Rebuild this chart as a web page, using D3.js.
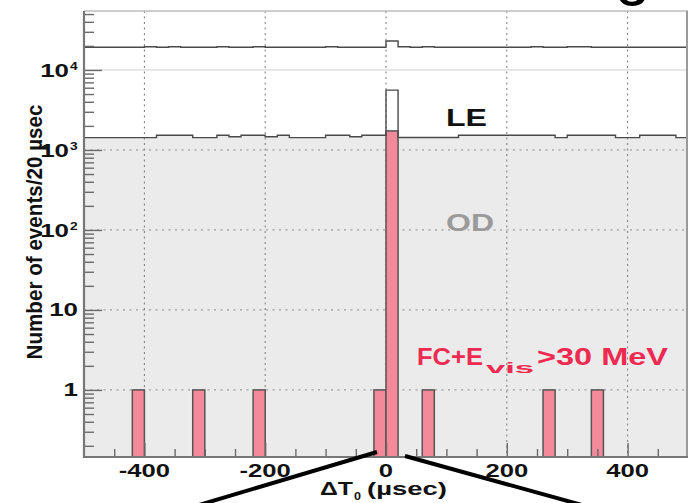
<!DOCTYPE html>
<html>
<head>
<meta charset="utf-8">
<script src="https://cdn.jsdelivr.net/npm/d3@7"></script>
<style>
  body { margin: 0; background: #fff; }
  svg { display: block; }
  text { font-family: "Liberation Sans", Arial, Helvetica, sans-serif; font-weight: bold; }
</style>
</head>
<body>
<svg id="chart" width="698" height="503"></svg>
<script>
// Histogram binning: 20 µs bins spanning -500 .. +500 µs
const binStart = -500;
const binWidth = 20;

// Top trace (all triggers), events per bin
const allTrigCounts = [
  19200, 19200, 19200, 19200, 19200, 19500, 19200, 19500, 19200, 19200,
  19200, 19500, 19200, 19200, 19500, 19200, 19200, 19200, 19200, 19200,
  19500, 19200, 19200, 19200, 19200, 23000, 19500, 19200, 19500, 19200,
  19200, 19200, 19200, 19200, 19200, 19200, 19200, 19500, 19200, 19200,
  19500, 19500, 19200, 19200, 19200, 19200, 19200, 19200, 19200, 19200
];

// LE trigger, events per bin
const leCounts = [
  1425, 1425, 1425, 1425, 1425, 1425, 1530, 1530, 1530, 1425,
  1425, 1530, 1460, 1530, 1530, 1460, 1530, 1425, 1425, 1425,
  1530, 1530, 1460, 1530, 1530, 5600, 1430, 1430, 1430, 1430,
  1430, 1530, 1530, 1530, 1530, 1530, 1530, 1530, 1530, 1425,
  1530, 1530, 1530, 1530, 1425, 1425, 1530, 1530, 1530, 1425
];

// OD trigger, events per bin (filled)
const odCounts = [
  1425, 1425, 1425, 1425, 1425, 1425, 1530, 1530, 1530, 1425,
  1425, 1530, 1460, 1530, 1530, 1460, 1530, 1425, 1425, 1425,
  1530, 1530, 1460, 1530, 1530, 1470, 1430, 1430, 1430, 1430,
  1430, 1530, 1530, 1530, 1530, 1530, 1530, 1530, 1530, 1425,
  1530, 1530, 1530, 1530, 1425, 1425, 1530, 1530, 1530, 1425
];

// FC events with Evis > 30 MeV, events per bin
const fcCounts = [
  0, 0, 0, 0, 1, 0, 0, 0, 0, 1,
  0, 0, 0, 0, 1, 0, 0, 0, 0, 0,
  0, 0, 0, 0, 1, 1730, 0, 0, 1, 0,
  0, 0, 0, 0, 0, 0, 0, 0, 1, 0,
  0, 0, 1, 0, 0, 0, 0, 0, 0, 0
];

const xTickValues = [-400, -200, 0, 200, 400];
const xTickLabels = ["-400", "-200", "0", "200", "400"];
const xMinorStep = 50;
const yTickValues = [1, 10, 100, 1000, 10000];
const yTickBases = ["1", "10", "10", "10", "10"];
const yTickExponents = ["", "", "2", "3", "4"];

const svg = d3.select("#chart");
const W = 698, H = 503;
const plot = { left: 84, right: 688, top: 11, bottom: 457 };

const x = d3.scaleLinear().domain([-500, 500]).range([plot.left, plot.right]);
const y = d3.scaleLog().domain([0.145, 54600]).range([plot.bottom, plot.top]);

const edges = d3.range(leCounts.length + 1).map(i => binStart + i * binWidth);
const stepPoints = arr => edges.map((e, i) => ({ e, v: arr[Math.min(i, arr.length - 1)] }));

const stepLine = d3.line().curve(d3.curveStepAfter).x(d => x(d.e)).y(d => y(d.v));
const stepArea = d3.area().curve(d3.curveStepAfter)
  .x(d => x(d.e)).y0(plot.bottom).y1(d => y(d.v));

svg.append("rect").attr("width", W).attr("height", H).attr("fill", "#fff");

// OD fill
svg.append("path").datum(stepPoints(odCounts))
  .attr("d", stepArea).attr("fill", "#ebebeb");

// grid
const grid = svg.append("g");
grid.selectAll("line.v").data(xTickValues).join("line")
  .attr("x1", d => x(d)).attr("x2", d => x(d))
  .attr("y1", plot.top).attr("y2", plot.bottom)
  .attr("stroke", "#7a7a7a").attr("stroke-width", 1).attr("stroke-dasharray", "2,3.5");
grid.selectAll("line.h").data(yTickValues).join("line")
  .attr("x1", plot.left).attr("x2", plot.right)
  .attr("y1", d => y(d)).attr("y2", d => y(d))
  .attr("stroke", d => d === 10000 ? "#cfcfcf" : "#8a8a8a")
  .attr("stroke-width", 1)
  .attr("stroke-dasharray", d => d === 10000 ? null : "2,4.5");

// FC bars
svg.append("g").selectAll("rect")
  .data(fcCounts.map((v, i) => ({ lo: binStart + i * binWidth, v })).filter(d => d.v > 0))
  .join("rect")
  .attr("x", d => x(d.lo))
  .attr("width", d => x(d.lo + binWidth) - x(d.lo))
  .attr("y", d => y(d.v))
  .attr("height", d => plot.bottom - y(d.v))
  .attr("fill", "#f4899a")
  .attr("stroke", "#555").attr("stroke-width", 1.5);

// LE and top traces
svg.append("path").datum(stepPoints(leCounts))
  .attr("d", stepLine).attr("fill", "none")
  .attr("stroke", "#4a4a4a").attr("stroke-width", 1.4);
svg.append("path").datum(stepPoints(allTrigCounts))
  .attr("d", stepLine).attr("fill", "none")
  .attr("stroke", "#4a4a4a").attr("stroke-width", 1.4);

// axes
const yMinor = [];
for (let p = -1; p <= 4; p++) for (let m = 2; m <= 9; m++) {
  const v = m * Math.pow(10, p);
  if (v >= y.domain()[0] && v <= y.domain()[1]) yMinor.push(v);
}
const xMinor = d3.range(-500, 501, xMinorStep).filter(v => !xTickValues.includes(v) && v > -500 && v < 500);

const axCol = "#6a6a6a";
function styleAxis(g) {
  g.selectAll("line").attr("stroke", axCol).attr("stroke-width", 1.4);
  g.select(".domain").remove();
}
svg.append("g").attr("transform", `translate(${plot.left},0)`)
  .call(d3.axisRight(y).tickValues(yTickValues).tickSize(18).tickFormat("")).call(styleAxis);
svg.append("g").attr("transform", `translate(${plot.left},0)`)
  .call(d3.axisRight(y).tickValues(yMinor).tickSize(10).tickFormat("")).call(styleAxis);
svg.append("g").attr("transform", `translate(0,${plot.bottom})`)
  .call(d3.axisTop(x).tickValues(xTickValues).tickSize(14).tickFormat("")).call(styleAxis);
svg.append("g").attr("transform", `translate(0,${plot.bottom})`)
  .call(d3.axisTop(x).tickValues(xMinor).tickSize(8).tickFormat("")).call(styleAxis);

// frame
svg.append("line").attr("x1", plot.left).attr("x2", plot.right).attr("y1", plot.top).attr("y2", plot.top)
  .attr("stroke", "#bdbdbd").attr("stroke-width", 1.5);
svg.append("line").attr("x1", plot.right - 1).attr("x2", plot.right - 1).attr("y1", plot.top).attr("y2", plot.bottom)
  .attr("stroke", "#9a9a9a").attr("stroke-width", 2);
svg.append("line").attr("x1", plot.left).attr("x2", plot.left).attr("y1", plot.top).attr("y2", plot.bottom + 1)
  .attr("stroke", "#777").attr("stroke-width", 2.2);
svg.append("line").attr("x1", plot.left).attr("x2", plot.right).attr("y1", plot.bottom).attr("y2", plot.bottom)
  .attr("stroke", "#777").attr("stroke-width", 2.2);

// text helpers
function txt(str, px, py, size, opts = {}) {
  const t = svg.append("text").attr("x", px).attr("y", py)
    .attr("font-size", size).attr("fill", opts.fill || "#111")
    .attr("text-anchor", opts.anchor || "start").text(str);
  if (opts.weight) t.style("font-weight", opts.weight);
  if (opts.len) t.attr("textLength", opts.len).attr("lengthAdjust", "spacingAndGlyphs");
  if (opts.stretch) {
    const n = t.node().getComputedTextLength();
    t.attr("textLength", n * opts.stretch).attr("lengthAdjust", "spacingAndGlyphs");
  }
  return t;
}

// y tick labels
yTickValues.forEach((v, i) => {
  const ty = y(v);
  if (yTickExponents[i]) {
    txt(yTickBases[i], 69, ty + 7, 18.5, { anchor: "end", stretch: 1.4 });
    txt(yTickExponents[i], 70, ty + 0.5, 11, { stretch: 1.25 });
  } else {
    txt(yTickBases[i], 78, ty + 6.5, 18.5, { anchor: "end", stretch: 1.4 });
  }
});

// x tick labels
xTickValues.forEach((v, i) => {
  txt(xTickLabels[i], x(v), 477, 19, { anchor: "middle", stretch: 1.35 });
});

// x title
txt("\u0394T", 320, 495, 18, { len: 33 });
txt("0", 354, 500, 11, { len: 7 });
txt("(\u00b5sec)", 367, 495, 18, { len: 80 });

// y title
svg.append("text")
  .attr("transform", "translate(42,232) scale(1.15,1) rotate(-90)")
  .attr("text-anchor", "middle").attr("font-size", 19).attr("fill", "#111")
  .attr("textLength", 255).attr("lengthAdjust", "spacingAndGlyphs")
  .text("Number of events/20 \u00b5sec");

// series labels
txt("LE", 446, 126, 24, { len: 41 });
txt("OD", 446, 231, 24, { len: 48, fill: "#9a9a9a" });
const red = "#ee2a50";
txt("FC+E", 417, 365, 23, { len: 66, fill: red });
txt("vis", 486, 373, 15, { len: 48, fill: red });
txt(">30 MeV", 537, 365, 23, { len: 131, fill: red });

// zoom guide lines toward the panel below
svg.append("line").attr("x1", 377).attr("y1", 452).attr("x2", 199).attr("y2", 505)
  .attr("stroke", "#000").attr("stroke-width", 4);
svg.append("line").attr("x1", 405).attr("y1", 456).attr("x2", 582).attr("y2", 505)
  .attr("stroke", "#000").attr("stroke-width", 4);

// descender of the heading above
txt("g", 615, -7, 64, { weight: "normal", fill: "#000" });
</script>
</body>
</html>
